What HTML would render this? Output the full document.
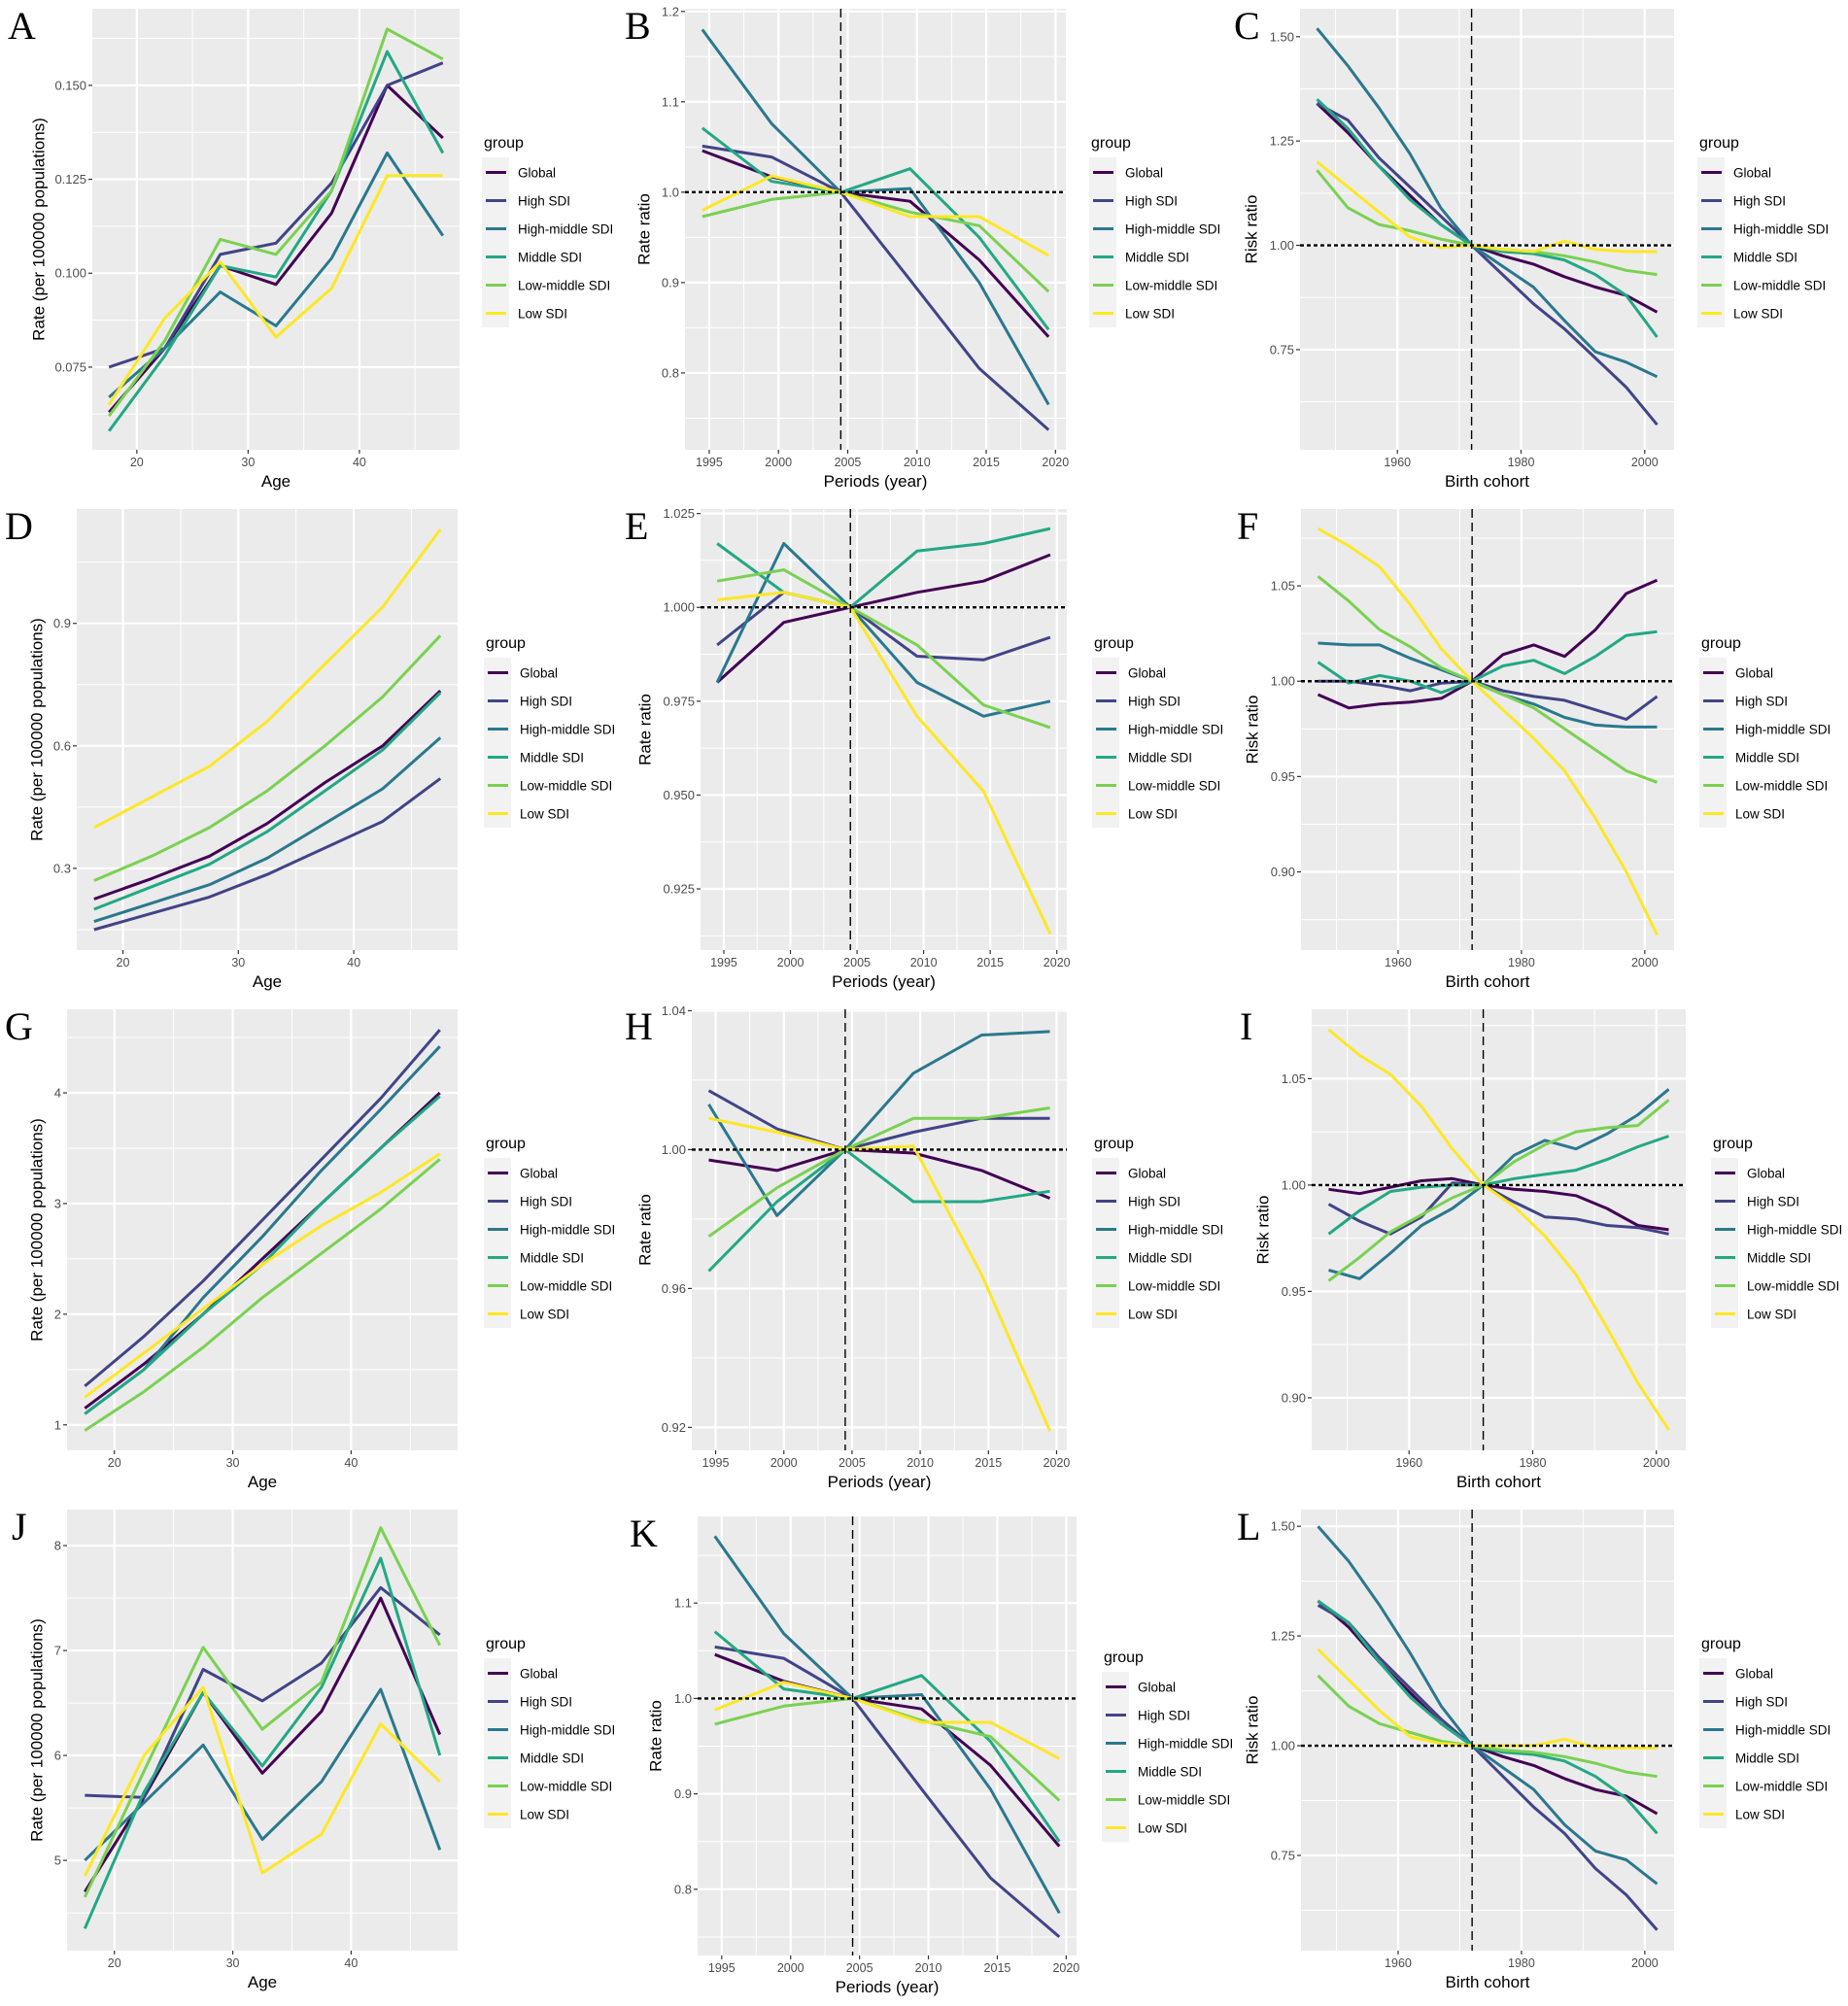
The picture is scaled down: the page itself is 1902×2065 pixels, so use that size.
<!DOCTYPE html>
<html><head><meta charset="utf-8"><title>Age-period-cohort panels</title>
<style>
html,body{margin:0;padding:0;background:#fff;}
svg{display:block;font-family:"Liberation Sans",sans-serif;}
</style></head>
<body>
<svg id="fig" xmlns="http://www.w3.org/2000/svg" width="1902" height="2065" viewBox="0 0 1902 2065">
<rect width="1902" height="2065" fill="#fff"/>
</svg>
<script>
// ---- categories ----
const groups = ["Global","High SDI","High-middle SDI","Middle SDI","Low-middle SDI","Low SDI"];
const colors = ["#440154","#414487","#2A788E","#22A884","#7AD151","#FDE725"];
const ageCats = [17.5,22.5,27.5,32.5,37.5,42.5,47.5];
const periodCats = [1994.5,1999.5,2004.5,2009.5,2014.5,2019.5];
const cohortCats = [1947,1952,1957,1962,1967,1972,1977,1982,1987,1992,1997,2002];

// ---- tick values ----
const ageTicks = [20,30,40];
const periodTicks = [1995,2000,2005,2010,2015,2020];
const cohortTicks = [1960,1980,2000];
const ticksA = [0.075,0.100,0.125,0.150];
const ticksB = [0.8,0.9,1.0,1.1,1.2];
const ticksC = [0.75,1.00,1.25,1.50];
const ticksD = [0.3,0.6,0.9];
const ticksE = [0.925,0.950,0.975,1.000,1.025];
const ticksF = [0.90,0.95,1.00,1.05];
const ticksG = [1,2,3,4];
const ticksH = [0.92,0.96,1.00,1.04];
const ticksI = [0.90,0.95,1.00,1.05];
const ticksJ = [5,6,7,8];
const ticksK = [0.8,0.9,1.0,1.1];
const ticksL = [0.75,1.00,1.25,1.50];

// ---- series values (rows follow groups order) ----
const dataA = [
 [0.063,0.080,0.102,0.097,0.116,0.150,0.136],
 [0.075,0.080,0.105,0.108,0.124,0.150,0.156],
 [0.067,0.080,0.095,0.086,0.104,0.132,0.110],
 [0.058,0.078,0.102,0.099,0.122,0.159,0.132],
 [0.062,0.082,0.109,0.105,0.122,0.165,0.157],
 [0.065,0.088,0.103,0.083,0.096,0.126,0.126]];
const dataB = [
 [1.046,1.017,1.0,0.990,0.925,0.840],
 [1.051,1.039,1.0,0.903,0.805,0.737],
 [1.180,1.076,1.0,1.004,0.900,0.765],
 [1.071,1.012,1.0,1.026,0.950,0.848],
 [0.973,0.992,1.0,0.978,0.963,0.890],
 [0.980,1.018,1.0,0.973,0.973,0.930]];
const dataC = [
 [1.34,1.27,1.19,1.12,1.05,1.0,0.975,0.955,0.925,0.90,0.88,0.84],
 [1.34,1.30,1.21,1.14,1.07,1.0,0.93,0.86,0.80,0.73,0.66,0.57],
 [1.52,1.43,1.33,1.22,1.09,1.0,0.95,0.90,0.82,0.745,0.72,0.685],
 [1.35,1.28,1.19,1.11,1.05,1.0,0.985,0.98,0.965,0.93,0.88,0.78],
 [1.18,1.09,1.05,1.035,1.015,1.0,0.99,0.985,0.975,0.96,0.94,0.93],
 [1.20,1.14,1.08,1.02,0.995,1.0,0.99,0.985,1.01,0.99,0.985,0.985]];
const dataD = [
 [0.225,0.275,0.33,0.41,0.51,0.60,0.735],
 [0.15,0.19,0.23,0.285,0.35,0.415,0.52],
 [0.17,0.215,0.26,0.325,0.41,0.495,0.62],
 [0.20,0.255,0.31,0.39,0.49,0.59,0.73],
 [0.27,0.33,0.40,0.49,0.60,0.72,0.87],
 [0.40,0.475,0.55,0.66,0.80,0.94,1.13]];
const dataE = [
 [0.980,0.996,1.0,1.004,1.007,1.014],
 [0.990,1.004,1.0,0.987,0.986,0.992],
 [0.980,1.017,1.0,0.980,0.971,0.975],
 [1.017,1.004,1.0,1.015,1.017,1.021],
 [1.007,1.010,1.0,0.990,0.974,0.968],
 [1.002,1.004,1.0,0.971,0.951,0.913]];
const dataF = [
 [0.993,0.986,0.988,0.989,0.991,1.0,1.014,1.019,1.013,1.027,1.046,1.053],
 [1.0,1.0,0.998,0.995,0.999,1.0,0.995,0.992,0.990,0.985,0.980,0.992],
 [1.020,1.019,1.019,1.012,1.006,1.0,0.993,0.988,0.981,0.977,0.976,0.976],
 [1.010,0.999,1.003,1.000,0.994,1.0,1.008,1.011,1.004,1.013,1.024,1.026],
 [1.055,1.042,1.027,1.018,1.007,1.0,0.993,0.986,0.975,0.964,0.953,0.947],
 [1.080,1.071,1.060,1.040,1.017,1.0,0.985,0.970,0.953,0.928,0.900,0.867]];
const dataG = [
 [1.15,1.55,2.0,2.5,3.0,3.5,4.0],
 [1.35,1.8,2.3,2.85,3.4,3.95,4.57],
 [1.1,1.5,2.15,2.7,3.3,3.85,4.42],
 [1.1,1.5,2.0,2.45,3.0,3.5,3.97],
 [0.95,1.3,1.7,2.15,2.55,2.95,3.4],
 [1.25,1.65,2.05,2.45,2.8,3.1,3.45]];
const dataH = [
 [0.997,0.994,1.0,0.999,0.994,0.986],
 [1.017,1.006,1.0,1.005,1.009,1.009],
 [1.013,0.981,1.0,1.022,1.033,1.034],
 [0.965,0.985,1.0,0.985,0.985,0.988],
 [0.975,0.989,1.0,1.009,1.009,1.012],
 [1.009,1.005,1.0,1.001,0.964,0.919]];
const dataI = [
 [0.998,0.996,0.999,1.002,1.003,1.0,0.998,0.997,0.995,0.989,0.981,0.979],
 [0.991,0.983,0.977,0.985,1.001,1.0,0.992,0.985,0.984,0.981,0.980,0.977],
 [0.960,0.956,0.968,0.981,0.989,1.0,1.014,1.021,1.017,1.024,1.033,1.045],
 [0.977,0.988,0.997,0.999,1.000,1.0,1.003,1.005,1.007,1.012,1.018,1.023],
 [0.955,0.966,0.978,0.986,0.994,1.0,1.011,1.019,1.025,1.027,1.028,1.040],
 [1.073,1.061,1.052,1.037,1.017,1.0,0.990,0.976,0.958,0.933,0.907,0.885]];
const dataJ = [
 [4.7,5.6,6.6,5.83,6.42,7.5,6.2],
 [5.62,5.6,6.82,6.52,6.88,7.6,7.15],
 [5.0,5.55,6.1,5.2,5.75,6.63,5.1],
 [4.35,5.65,6.6,5.9,6.65,7.88,6.0],
 [4.65,5.85,7.03,6.25,6.7,8.17,7.05],
 [4.85,6.0,6.65,4.88,5.25,6.3,5.75]];
const dataK = [
 [1.046,1.018,1.0,0.989,0.93,0.845],
 [1.054,1.042,1.0,0.905,0.812,0.75],
 [1.17,1.068,1.0,1.004,0.905,0.775],
 [1.07,1.01,1.0,1.024,0.955,0.85],
 [0.973,0.992,1.0,0.977,0.96,0.893],
 [0.988,1.017,1.0,0.975,0.975,0.937]];
const dataL = [
 [1.33,1.27,1.19,1.12,1.05,1.0,0.975,0.955,0.925,0.90,0.885,0.845],
 [1.32,1.28,1.20,1.13,1.06,1.0,0.93,0.86,0.80,0.72,0.66,0.58],
 [1.50,1.42,1.32,1.21,1.09,1.0,0.95,0.90,0.82,0.76,0.74,0.685],
 [1.33,1.28,1.19,1.11,1.05,1.0,0.985,0.98,0.965,0.93,0.88,0.80],
 [1.16,1.09,1.05,1.03,1.01,1.0,0.99,0.985,0.975,0.96,0.94,0.93],
 [1.22,1.15,1.08,1.02,1.005,1.0,1.0,1.0,1.015,0.995,0.995,0.995]];

const NS = "http://www.w3.org/2000/svg";
const svg = document.getElementById("fig");
function mk(tag, attrs, parent){
  const e = document.createElementNS(NS, tag);
  for (const k in attrs) e.setAttribute(k, attrs[k]);
  (parent||svg).appendChild(e);
  return e;
}

const AGE = {cats:ageCats, ticks:ageTicks, lim:[16,49], title:"Age"};
const PER = {cats:periodCats, ticks:periodTicks, lim:[1993.25,2020.75], title:"Periods (year)", ref:2004.5};
const COH = {cats:cohortCats, ticks:cohortTicks, lim:[1944.25,2004.75], title:"Birth cohort", ref:1972};
const RATE = "Rate (per 100000 populations)";

const panels = [
 {id:"A",x:AGE,data:dataA,yt:ticksA,dec:3,L:95,R:473,T:9,B:463,ylim:[0.053,0.1704],ytx:41,lx:498,lt:0,letX:8},
 {id:"B",x:PER,data:dataB,yt:ticksB,dec:1,L:705,R:1097,T:9,B:463,ylim:[0.715,1.203],ytx:664,lx:1123,lt:0,letX:643,ylab:"Rate ratio",hline:true},
 {id:"C",x:COH,data:dataC,yt:ticksC,dec:2,L:1338,R:1723,T:9,B:463,ylim:[0.51,1.567],ytx:1289,lx:1749,lt:0,letX:1270,ylab:"Risk ratio",hline:true},
 {id:"D",x:AGE,data:dataD,yt:ticksD,dec:1,L:79,R:471,T:524,B:978,ylim:[0.10,1.18],ytx:39,lx:500,lt:515,letX:5},
 {id:"E",x:PER,data:dataE,yt:ticksE,dec:3,L:721,R:1098,T:524,B:978,ylim:[0.9087,1.0262],ytx:665,lx:1126,lt:515,letX:643,ylab:"Rate ratio",hline:true},
 {id:"F",x:COH,data:dataF,yt:ticksF,dec:2,L:1339,R:1723,T:524,B:978,ylim:[0.859,1.0903],ytx:1290,lx:1751,lt:515,letX:1273,ylab:"Risk ratio",hline:true},
 {id:"G",x:AGE,data:dataG,yt:ticksG,dec:0,L:69,R:471,T:1039,B:1493,ylim:[0.77,4.755],ytx:39,lx:500,lt:1030,letX:5},
 {id:"H",x:PER,data:dataH,yt:ticksH,dec:2,L:712,R:1098,T:1039,B:1493,ylim:[0.9134,1.0404],ytx:665,lx:1126,lt:1030,letX:643,ylab:"Rate ratio",hline:true},
 {id:"I",x:COH,data:dataI,yt:ticksI,dec:2,L:1350,R:1735,T:1039,B:1493,ylim:[0.8753,1.0826],ytx:1301,lx:1763,lt:1030,letX:1276,ylab:"Risk ratio",hline:true},
 {id:"J",x:AGE,data:dataJ,yt:ticksJ,dec:0,L:69,R:471,T:1554,B:2008,ylim:[4.14,8.343],ytx:39,lx:500,lt:1545,letX:12},
 {id:"K",x:PER,data:dataK,yt:ticksK,dec:1,L:718,R:1108,T:1561,B:2013,ylim:[0.7306,1.1908],ytx:676,lx:1136,lt:1552,letX:648,ylab:"Rate ratio",hline:true},
 {id:"L",x:COH,data:dataL,yt:ticksL,dec:2,L:1339,R:1723,T:1554,B:2008,ylim:[0.533,1.538],ytx:1290,lx:1751,lt:1545,letX:1273,ylab:"Risk ratio",hline:true}
];

function minors(ticks, lim){
  const step = ticks.length>1 ? ticks[1]-ticks[0] : 1;
  const out = [];
  for (let v = ticks[0]-step*5+step/2; v < lim[1]; v += step){
    if (v > lim[0]) out.push(v);
  }
  return out;
}

panels.forEach(p => {
  const g = mk("g", {});
  
  
  const sx = v => p.L + (v - p.x.lim[0]) / (p.x.lim[1]-p.x.lim[0]) * (p.R - p.L);
  const sy = v => p.B - (v - p.ylim[0]) / (p.ylim[1]-p.ylim[0]) * (p.B - p.T);

  const bg = mk("rect", {x:p.L, y:p.T, width:p.R-p.L, height:p.B-p.T, fill:"#EBEBEB"}, g);
  
  

  minors(p.yt, p.ylim).forEach(v => mk("line",{x1:p.L,x2:p.R,y1:sy(v),y2:sy(v),stroke:"#fff","stroke-width":1},g));
  minors(p.x.ticks, p.x.lim).forEach(v => mk("line",{x1:sx(v),x2:sx(v),y1:p.T,y2:p.B,stroke:"#fff","stroke-width":1},g));
  p.yt.forEach(v => {
    const y = sy(v);
    mk("line",{x1:p.L,x2:p.R,y1:y,y2:y,stroke:"#fff","stroke-width":2.2},g);
    mk("line",{x1:p.L-4,x2:p.L,y1:y,y2:y,stroke:"#333","stroke-width":1.2},g);
    const t = mk("text",{x:p.L-6,y:y+4.5,"text-anchor":"end","font-size":13,fill:"#4D4D4D"},g);
    t.textContent = v.toFixed(p.dec);
    
    
  });
  p.x.ticks.forEach(v => {
    const x = sx(v);
    mk("line",{x1:x,x2:x,y1:p.T,y2:p.B,stroke:"#fff","stroke-width":2.2},g);
    mk("line",{x1:x,x2:x,y1:p.B,y2:p.B+4,stroke:"#333","stroke-width":1.2},g);
    const t = mk("text",{x:x,y:p.B+17,"text-anchor":"middle","font-size":12.5,fill:"#4D4D4D"},g);
    t.textContent = String(v);
    
    
  });

  p.data.forEach((vals, gi) => {
    const pts = vals.map((v,i) => sx(p.x.cats[i]).toFixed(1) + "," + sy(v).toFixed(1)).join(" ");
    const pl = mk("polyline",{points:pts,fill:"none",stroke:colors[gi],"stroke-width":3,"stroke-linejoin":"round","stroke-linecap":"butt"},g);
    
    
  });

  if (p.x.ref !== undefined){
    const vx = sx(p.x.ref);
    const vl = mk("line",{x1:vx,x2:vx,y1:p.T,y2:p.B,stroke:"#000","stroke-width":1.4,"stroke-dasharray":"9,5"},g);
    
    
  }
  if (p.hline){
    const hy = sy(1.0);
    const hl = mk("line",{x1:p.L,x2:p.R,y1:hy,y2:hy,stroke:"#000","stroke-width":2.4,"stroke-dasharray":"4,3"},g);
    
    
  }

  const xt = mk("text",{x:(p.L+p.R)/2,y:p.B+38,"text-anchor":"middle","font-size":17,fill:"#000"},g);
  xt.textContent = p.x.title;
  
  
  const cy = (p.T+p.B)/2;
  const yt = mk("text",{x:p.ytx,y:cy,"text-anchor":"middle","font-size":17,fill:"#000",transform:"rotate(-90 "+p.ytx+" "+cy+")","dominant-baseline":"middle"},g);
  yt.textContent = p.ylab || RATE;
  
  

  const lt = mk("text",{x:p.letX,y:p.lt+40,"font-size":40,"font-family":"Liberation Serif, serif",fill:"#000"},g);
  lt.textContent = p.id;
  
  

  const lg = mk("g",{},g);
  
  
  const top = p.lt + (p.id === "K" ? 7 : 0);
  const gt = mk("text",{x:p.lx,y:top+152,"font-size":16,fill:"#000"},lg);
  gt.textContent = "group";
  
  
  mk("rect",{x:p.lx-2,y:top+162,width:28,height:175,fill:"#F2F2F2"},lg);
  groups.forEach((name, gi) => {
    const y = top + 177.5 + gi*29;
    const e = mk("g",{},lg);
    
    
    mk("line",{x1:p.lx+2,x2:p.lx+23,y1:y,y2:y,stroke:colors[gi],"stroke-width":3},e);
    const t = mk("text",{x:p.lx+35,y:y+5,"font-size":13.5,fill:"#000"},e);
    t.textContent = name;
  });
});
</script>
</body></html>
